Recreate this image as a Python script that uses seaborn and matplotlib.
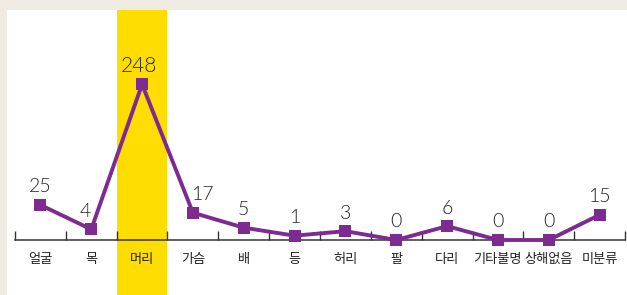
import numpy as np
import pandas as pd
import matplotlib.pyplot as plt
from matplotlib.patches import Rectangle
import seaborn as sns

# data
parts = ["얼굴", "목", "머리", "가슴", "배", "등", "허리", "팔", "다리", "기타불명", "상해없음", "미분류"]
counts = [25, 4, 248, 17, 5, 1, 3, 0, 6, 0, 0, 15]
highlight = "머리"

# small horizontal nudges for the value labels (points)
label_dx = [0, -4, -2, 7, 0, 0, 0, 0, 0, 0, 0, 0]

PURPLE = "#7d2a91"
YELLOW = "#ffdd00"
BEIGE = "#f0ece4"

sns.set_theme(style="white")
plt.rcParams["font.family"] = ["Noto Sans CJK KR", "DejaVu Sans"]

df = pd.DataFrame({"part": parts, "count": counts})

fig = plt.figure(figsize=(6.27, 2.95), dpi=100, facecolor=BEIGE)
W, H = 627, 295
fig.patches.append(Rectangle((7 / W, 0), 1 - 7 / W, 1 - 10 / H, transform=fig.transFigure,
                             facecolor="white", edgecolor="none", zorder=-1))

ax = fig.add_axes([15 / W, 55 / H, 610 / W, 230 / H])
ax.patch.set_alpha(0)

# power scale so the small values stay readable next to the large one
ax.set_yscale("function", functions=(lambda v: np.power(np.clip(v, 0, None), 0.65),
                                     lambda v: np.power(np.clip(v, 0, None), 1 / 0.65)))

sns.lineplot(data=df, x="part", y="count", sort=False, color=PURPLE, linewidth=2.8,
             marker="s", markersize=9, markeredgewidth=0, ax=ax, clip_on=False, zorder=3)

hi = parts.index(highlight)
ax.axvspan(hi - 0.5, hi + 0.5, ymin=-0.25, ymax=1, color=YELLOW, lw=0, clip_on=False, zorder=0)

for i, v in enumerate(counts):
    ax.annotate(str(v), (i, v), xytext=(label_dx[i], 13), textcoords="offset points",
                ha="center", va="center", fontsize=14 if v < 100 else 15,
                family=["Lato", "Liberation Sans"], fontweight=300,
                color="#222222", zorder=4)

ax.set_xlim(-0.5, len(parts) - 0.5)
ax.set_ylim(0, 452)
ax.set_xlabel("")
ax.set_ylabel("")
ax.set_yticks([])
ax.set_xticks(range(len(parts)))
ax.set_xticklabels(parts, fontsize=9.5, color="#222222")
ax.set_xticks(np.arange(-0.5, len(parts), 1), minor=True)
ax.tick_params(axis="x", which="major", bottom=False, length=0, pad=9)
ax.tick_params(axis="x", which="minor", bottom=True, direction="in", length=6.5,
               width=1, color="#333333")

for s in ["top", "left", "right"]:
    ax.spines[s].set_visible(False)
ax.spines["bottom"].set_color("#333333")
ax.spines["bottom"].set_linewidth(1.1)

fig.savefig("out.png", dpi=100, facecolor=BEIGE)
